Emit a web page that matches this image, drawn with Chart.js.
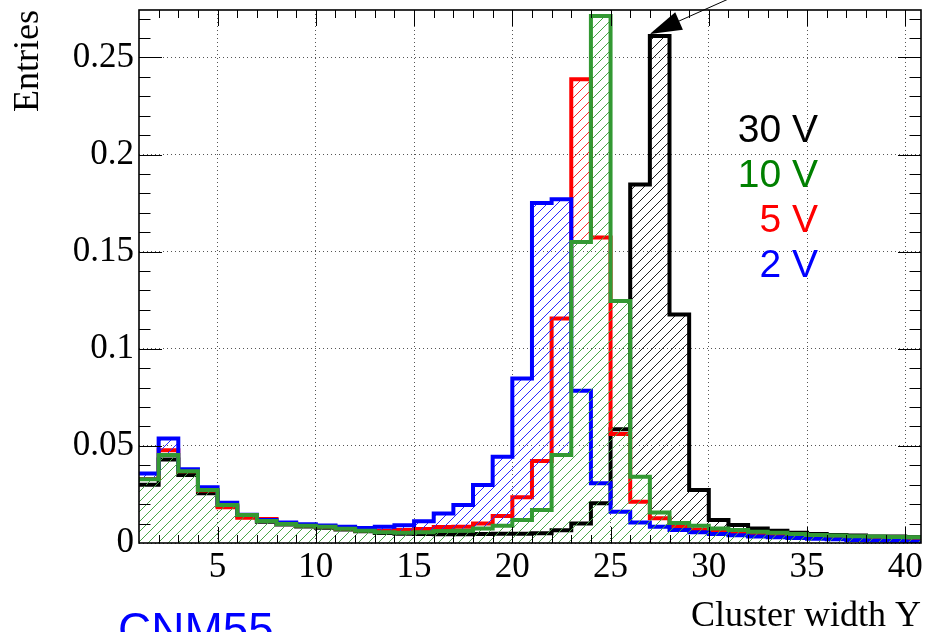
<!DOCTYPE html>
<html>
<head>
<meta charset="utf-8">
<script src="https://cdn.jsdelivr.net/npm/chart.js@4.4.1/dist/chart.umd.min.js"></script>
<style>
html, body { margin: 0; padding: 0; background: #fff; }
canvas { display: block; }
</style>
</head>
<body>
<canvas id="clusterChart" width="925" height="632"></canvas>
<script>
// bin left edges, each bin is 1 wide, last bin closes at binTop
var binLow = [1, 2, 3, 4, 5, 6, 7, 8, 9, 10, 11, 12, 13, 14, 15, 16, 17, 18, 19, 20,
    21, 22, 23, 24, 25, 26, 27, 28, 29, 30, 31, 32, 33, 34, 35, 36, 37, 38, 39, 40];
var binTop = 41;

var entries30V = [0.030, 0.043, 0.035, 0.0256, 0.019, 0.014, 0.011, 0.0095, 0.0085, 0.0078,
    0.007, 0.006, 0.0052, 0.0048, 0.0046, 0.0045, 0.0045, 0.0046, 0.0047, 0.0048,
    0.005, 0.0065, 0.0101, 0.0204, 0.0585, 0.1845, 0.261, 0.1176, 0.0273, 0.0118,
    0.0093, 0.0075, 0.0063, 0.0053, 0.0046, 0.0041, 0.0038, 0.0034, 0.0033, 0.003];
var entries10V = [0.0328, 0.0453, 0.037, 0.0273, 0.0195, 0.0144, 0.0113, 0.0098, 0.0089, 0.0084,
    0.0074, 0.0063, 0.0055, 0.0053, 0.0055, 0.0062, 0.0063, 0.0075, 0.0089, 0.0118,
    0.017, 0.0453, 0.155, 0.2713, 0.1246, 0.0341, 0.0157, 0.0103, 0.0089, 0.0075,
    0.0067, 0.0058, 0.0053, 0.0046, 0.0041, 0.0038, 0.0035, 0.0033, 0.0031, 0.003];
var entries5V = [0.033, 0.0478, 0.037, 0.027, 0.0184, 0.013, 0.0123, 0.0102, 0.009, 0.0085,
    0.0075, 0.0066, 0.0063, 0.0067, 0.0072, 0.0082, 0.0084, 0.0101, 0.0139, 0.0235,
    0.0422, 0.1156, 0.2387, 0.1573, 0.0561, 0.0213, 0.0127, 0.0084, 0.007, 0.0059,
    0.005, 0.0044, 0.004, 0.0036, 0.0033, 0.003, 0.0028, 0.0025, 0.0023, 0.0021];
var entries2V = [0.0358, 0.0538, 0.038, 0.0287, 0.0207, 0.0145, 0.0118, 0.0106, 0.0096, 0.009,
    0.0084, 0.0077, 0.0084, 0.0091, 0.0112, 0.0152, 0.0195, 0.0298, 0.0444, 0.0847,
    0.175, 0.177, 0.0784, 0.0307, 0.0161, 0.0105, 0.0084, 0.0067, 0.0055, 0.0046,
    0.004, 0.0034, 0.003, 0.0026, 0.0022, 0.0019, 0.0016, 0.0013, 0.0011, 0.0008];

var xTicks = [5, 10, 15, 20, 25, 30, 35, 40];
var yTicks = [0, 0.05, 0.1, 0.15, 0.2, 0.25];
var seriesNames = ['30 V', '10 V', '5 V', '2 V'];
var labelColors = ['#000000', '#008000', '#ff0000', '#0000ff'];

var canvas = document.getElementById('clusterChart');
var mainCtx = canvas.getContext('2d');

// "///" hatch made as a long striped gradient across the whole canvas,
// every stripe is a solid one pixel staircase so the top histogram wins
function hatch(rgb) {
    var L = 1600, period = 10;
    var grad = mainCtx.createLinearGradient(0, 0, L, L);
    var clear = 'rgba(' + rgb + ',0)', solid = 'rgba(' + rgb + ',1)';
    for (var s = 0; s + period <= 2 * L; s += period) {
        grad.addColorStop((s + 0.3) / (2 * L), clear);
        grad.addColorStop((s + 0.6) / (2 * L), solid);
        grad.addColorStop((s + 1.4) / (2 * L), solid);
        grad.addColorStop((s + 1.7) / (2 * L), clear);
    }
    return grad;
}

function toSteps(vals) {
    var pts = binLow.map(function (x, i) { return { x: x, y: vals[i] }; });
    pts.push({ x: binTop, y: vals[vals.length - 1] });
    return pts;
}

function histo(label, vals, lineColor, fillRgb) {
    return {
        label: label,
        data: toSteps(vals),
        borderColor: lineColor,
        backgroundColor: hatch(fillRgb),
        borderWidth: 4,
        stepped: true,
        fill: 'origin',
        pointRadius: 0,
        borderJoinStyle: 'miter'
    };
}

// frame, inside ticks, the arrow and the text labels
var decorations = {
    id: 'decorations',
    afterDatasetsDraw: function (chart) {
        var a = chart.chartArea, xs = chart.scales.x, ys = chart.scales.y, ctx = chart.ctx;
        ctx.save();
        ctx.strokeStyle = '#000';
        ctx.lineWidth = 1;
        ctx.beginPath();
        for (var v = 2; v <= 40; v++) {
            var px = Math.round(xs.getPixelForValue(v)) + 0.5;
            var len = v % 5 === 0 ? 16 : 8;
            ctx.moveTo(px, a.bottom); ctx.lineTo(px, a.bottom - len);
            ctx.moveTo(px, a.top); ctx.lineTo(px, a.top + len);
        }
        for (var k = 1; k <= 27; k++) {
            var py = Math.round(ys.getPixelForValue(k / 100)) + 0.5;
            var ln = k % 5 === 0 ? 23 : 11.5;
            ctx.moveTo(a.left, py); ctx.lineTo(a.left + ln, py);
            ctx.moveTo(a.right, py); ctx.lineTo(a.right - ln, py);
        }
        ctx.stroke();
        ctx.lineWidth = 1.6;
        ctx.strokeRect(a.left, a.top, a.right - a.left, a.bottom - a.top);
        ctx.restore();
    },
    afterDraw: function (chart) {
        var xs = chart.scales.x, ys = chart.scales.y, ctx = chart.ctx;
        ctx.save();
        // arrow pointing at the 30 V peak
        var tipX = xs.getPixelForValue(27), tipY = ys.getPixelForValue(entries30V[26]) - 2;
        var dx = 0.913, dy = -0.407;
        ctx.strokeStyle = '#000';
        ctx.fillStyle = '#000';
        ctx.lineWidth = 1;
        ctx.beginPath();
        ctx.moveTo(tipX + 30 * dx, tipY + 30 * dy);
        ctx.lineTo(tipX + 100 * dx, tipY + 100 * dy);
        ctx.stroke();
        var bx = tipX + 32 * dx, by = tipY + 32 * dy;
        ctx.beginPath();
        ctx.moveTo(tipX, tipY);
        ctx.lineTo(bx - 9.5 * dy, by + 9.5 * dx);
        ctx.lineTo(bx + 9.5 * dy, by - 9.5 * dx);
        ctx.closePath();
        ctx.fill();

        ctx.font = '39px "Liberation Sans", Arial, sans-serif';
        ctx.textAlign = 'right';
        ctx.textBaseline = 'alphabetic';
        seriesNames.forEach(function (name, i) {
            ctx.fillStyle = labelColors[i];
            ctx.fillText(name, 818, 142 + i * 45);
        });

        ctx.font = '46px "Liberation Sans", Arial, sans-serif';
        ctx.textAlign = 'left';
        ctx.fillStyle = '#0000ff';
        ctx.fillText('CNM55', 118, 645);
        ctx.restore();
    }
};

var serif = '"Liberation Serif", "Times New Roman", serif';

// first dataset is drawn on top: 10 V, then 2 V, 5 V, 30 V
var clusterChart = new Chart(canvas, {
    type: 'line',
    data: {
        datasets: [
            histo('10 V', entries10V, '#339933', '70,165,70'),
            histo('2 V', entries2V, '#0000ff', '40,40,255'),
            histo('5 V', entries5V, '#ff0000', '255,40,40'),
            histo('30 V', entries30V, '#000000', '30,30,30')
        ]
    },
    options: {
        responsive: false,
        animation: false,
        devicePixelRatio: 1,
        layout: { padding: { top: 10, right: 4, left: 0, bottom: 0 } },
        plugins: {
            legend: { display: false },
            tooltip: { enabled: false }
        },
        scales: {
            x: {
                type: 'linear',
                min: 1,
                max: 40.8,
                afterBuildTicks: function (scale) {
                    scale.ticks = xTicks.map(function (v) { return { value: v }; });
                },
                afterFit: function (scale) {
                    scale.height = 89;
                    scale.paddingLeft = 0;
                    scale.paddingRight = 0;
                },
                ticks: {
                    color: '#000',
                    font: { family: serif, size: 35 },
                    padding: 4,
                    maxRotation: 0,
                    callback: function (v) { return String(v); }
                },
                grid: { color: '#555', lineWidth: 1, drawTicks: false },
                border: { display: false, dash: [1, 3] },
                title: {
                    display: true,
                    text: 'Cluster width Y',
                    align: 'end',
                    color: '#000',
                    font: { family: serif, size: 36, lineHeight: 0.85 },
                    padding: { top: 0, bottom: 0 }
                }
            },
            y: {
                type: 'linear',
                min: 0,
                max: 0.2744,
                afterBuildTicks: function (scale) {
                    scale.ticks = yTicks.map(function (v) { return { value: v }; });
                },
                afterFit: function (scale) {
                    scale.width = 139;
                    scale.paddingTop = 0;
                    scale.paddingBottom = 0;
                },
                ticks: {
                    color: '#000',
                    font: { family: serif, size: 35 },
                    padding: 5,
                    callback: function (v) { return String(Math.round(v * 100) / 100); }
                },
                grid: { color: '#555', lineWidth: 1, drawTicks: false },
                border: { display: false, dash: [1, 3] },
                title: {
                    display: true,
                    text: 'Entries',
                    align: 'end',
                    color: '#000',
                    font: { family: serif, size: 36, lineHeight: 1.2 },
                    padding: { top: 7, bottom: 0 }
                }
            }
        }
    },
    plugins: [decorations]
});
</script>
</body>
</html>
